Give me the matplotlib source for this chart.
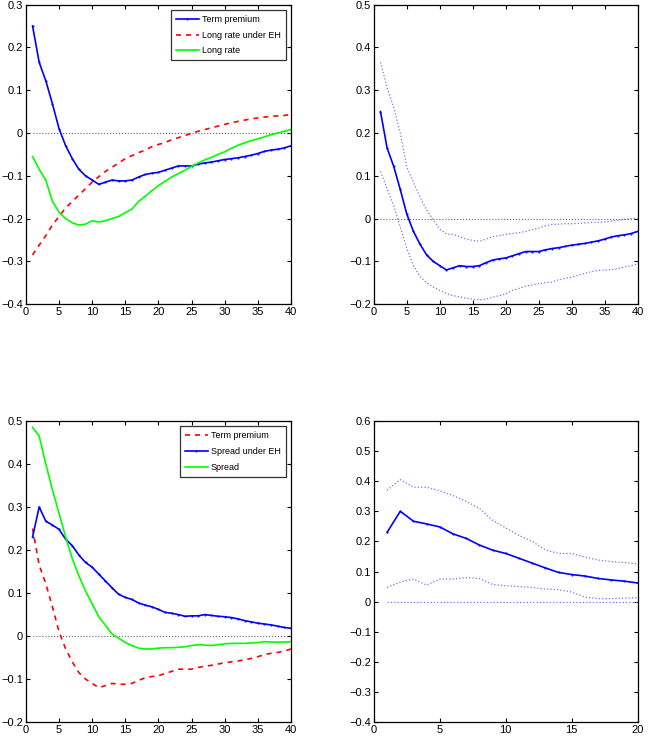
import matplotlib
matplotlib.use("Agg")
import matplotlib.pyplot as plt
import numpy as np

plt.rcParams['font.family'] = ['Liberation Sans Narrow', 'Liberation Sans', 'DejaVu Sans']
plt.rcParams['font.size'] = 8

# horizons
h40 = np.arange(1, 41)
h20 = np.arange(1, 21)

# term premium response (same series in panels 1, 2 and 3)
term_premium = [0.250, 0.165, 0.122, 0.068, 0.010, -0.030, -0.060, -0.085, -0.100, -0.110,
                -0.120, -0.115, -0.110, -0.112, -0.112, -0.110, -0.103, -0.097, -0.094, -0.092,
                -0.087, -0.082, -0.077, -0.077, -0.077, -0.073, -0.070, -0.068, -0.065, -0.062,
                -0.060, -0.058, -0.055, -0.052, -0.048, -0.043, -0.040, -0.038, -0.035, -0.030]

long_rate_eh = [-0.285, -0.262, -0.240, -0.215, -0.195, -0.175, -0.160, -0.145, -0.130, -0.115,
                -0.102, -0.090, -0.080, -0.070, -0.060, -0.053, -0.046, -0.040, -0.032, -0.027,
                -0.022, -0.016, -0.011, -0.006, -0.001, 0.004, 0.008, 0.012, 0.016, 0.020,
                0.024, 0.027, 0.030, 0.033, 0.035, 0.037, 0.039, 0.040, 0.041, 0.043]

long_rate = [-0.055, -0.085, -0.110, -0.160, -0.185, -0.200, -0.210, -0.215, -0.213, -0.205,
             -0.208, -0.205, -0.200, -0.195, -0.186, -0.178, -0.160, -0.148, -0.135, -0.123,
             -0.113, -0.103, -0.095, -0.087, -0.078, -0.070, -0.063, -0.057, -0.050, -0.044,
             -0.036, -0.029, -0.023, -0.018, -0.014, -0.009, -0.004, 0.000, 0.004, 0.008]

# confidence bands for term premium
tp_upper = [0.365, 0.306, 0.260, 0.200, 0.120, 0.085, 0.050, 0.020, -0.003, -0.025,
            -0.036, -0.037, -0.042, -0.048, -0.051, -0.053, -0.048, -0.042, -0.040, -0.037,
            -0.035, -0.033, -0.030, -0.026, -0.022, -0.017, -0.014, -0.013, -0.012, -0.012,
            -0.011, -0.010, -0.009, -0.009, -0.008, -0.006, -0.004, -0.002, 0.000, 0.001]
tp_lower = [0.110, 0.070, 0.030, -0.020, -0.070, -0.110, -0.135, -0.150, -0.160, -0.168,
            -0.175, -0.180, -0.183, -0.186, -0.188, -0.190, -0.188, -0.184, -0.180, -0.176,
            -0.168, -0.163, -0.158, -0.155, -0.152, -0.150, -0.148, -0.143, -0.140, -0.137,
            -0.132, -0.128, -0.124, -0.121, -0.120, -0.119, -0.117, -0.113, -0.110, -0.106]

spread_eh = [0.230, 0.300, 0.267, 0.258, 0.248, 0.225, 0.210, 0.188, 0.171, 0.160,
             0.144, 0.128, 0.112, 0.097, 0.090, 0.085, 0.077, 0.072, 0.068, 0.062,
             0.055, 0.053, 0.050, 0.046, 0.047, 0.047, 0.050, 0.048, 0.046, 0.045,
             0.043, 0.040, 0.036, 0.033, 0.030, 0.028, 0.026, 0.023, 0.020, 0.018]

spread = [0.485, 0.465, 0.400, 0.340, 0.285, 0.230, 0.180, 0.140, 0.105, 0.075,
          0.045, 0.025, 0.005, -0.005, -0.015, -0.022, -0.028, -0.030, -0.030, -0.028,
          -0.027, -0.027, -0.026, -0.025, -0.022, -0.020, -0.021, -0.022, -0.020, -0.018,
          -0.017, -0.017, -0.017, -0.016, -0.015, -0.013, -0.014, -0.014, -0.014, -0.013]

# bands for spread under EH, 20 horizons
seh_upper = [0.370, 0.405, 0.380, 0.380, 0.368, 0.352, 0.333, 0.310, 0.270, 0.245,
             0.220, 0.200, 0.172, 0.160, 0.160, 0.148, 0.138, 0.133, 0.130, 0.125]
seh_lower = [0.047, 0.065, 0.075, 0.055, 0.075, 0.075, 0.080, 0.077, 0.057, 0.053,
             0.050, 0.047, 0.042, 0.040, 0.032, 0.015, 0.010, 0.010, 0.012, 0.013]

BLUE = (0, 0, 1)
RED = (1, 0, 0)
GREEN = (0, 1, 0)
BAND = (0.45, 0.45, 1.0)


def fmt(t):
    t = round(t, 1)
    if t == 0:
        return '0'
    return ('%g' % t).replace('-', '\u2212')


def style(ax, xlim, ylim, yticks, xticks):
    ax.set_xlim(xlim)
    ax.set_ylim(ylim)
    ax.set_yticks(yticks)
    ax.set_xticks(xticks)
    ax.set_yticklabels([fmt(t) for t in yticks])
    ax.tick_params(direction='in', top=True, right=True, length=3, width=0.8,
                   labelsize=8, pad=2)
    for s in ax.spines.values():
        s.set_linewidth(0.9)


def add_legend(ax):
    leg = ax.legend(loc='upper right', fontsize=6.5, frameon=True, fancybox=False,
                    edgecolor='black', handlelength=2.6, borderpad=0.55,
                    labelspacing=0.75, handletextpad=0.3, borderaxespad=0.6)
    leg.get_frame().set_linewidth(0.9)


fig = plt.figure(figsize=(6.48, 7.53), dpi=100)
ax1 = fig.add_axes([0.040, 0.596, 0.409, 0.398])
ax2 = fig.add_axes([0.577, 0.596, 0.407, 0.398])
ax3 = fig.add_axes([0.040, 0.041, 0.409, 0.400])
ax4 = fig.add_axes([0.577, 0.041, 0.407, 0.400])

# panel 1
ax1.plot(h40, np.zeros(40), ':', color='0.4', lw=0.8)
ax1.plot(h40, term_premium, '.-', color=BLUE, lw=1.2, ms=1.0, label='Term premium')
ax1.plot(h40, long_rate_eh, '--', color=RED, lw=1.2, dashes=(3, 3), label='Long rate under EH')
ax1.plot(h40, long_rate, '-', color=GREEN, lw=1.2, label='Long rate')
style(ax1, (0, 40), (-0.4, 0.3), np.arange(-0.4, 0.31, 0.1), range(0, 41, 5))
add_legend(ax1)

# panel 2
ax2.plot(h40, np.zeros(40), ':', color='0.4', lw=0.8)
ax2.plot(h40, tp_upper, ':', color=BAND, lw=0.9)
ax2.plot(h40, tp_lower, ':', color=BAND, lw=0.9)
ax2.plot(h40, term_premium, '.-', color=BLUE, lw=1.2, ms=1.0)
style(ax2, (0, 40), (-0.2, 0.5), np.arange(-0.2, 0.51, 0.1), range(0, 41, 5))

# panel 3
ax3.plot(h40, np.zeros(40), ':', color='0.4', lw=0.8)
ax3.plot(h40, term_premium, '--', color=RED, lw=1.2, dashes=(3, 3), label='Term premium')
ax3.plot(h40, spread_eh, '.-', color=BLUE, lw=1.2, ms=1.0, label='Spread under EH')
ax3.plot(h40, spread, '-', color=GREEN, lw=1.2, label='Spread')
style(ax3, (0, 40), (-0.2, 0.5), np.arange(-0.2, 0.51, 0.1), range(0, 41, 5))
add_legend(ax3)

# panel 4
ax4.plot(h20, np.zeros(20), ':', color=BAND, lw=0.9)
ax4.plot(h20, seh_upper, ':', color=BAND, lw=0.9)
ax4.plot(h20, seh_lower, ':', color=BAND, lw=0.9)
ax4.plot(h20, spread_eh[:20], '.-', color=BLUE, lw=1.2, ms=1.0)
style(ax4, (0, 20), (-0.4, 0.6), np.arange(-0.4, 0.61, 0.1), range(0, 21, 5))

fig.savefig('out.png', dpi=100)
